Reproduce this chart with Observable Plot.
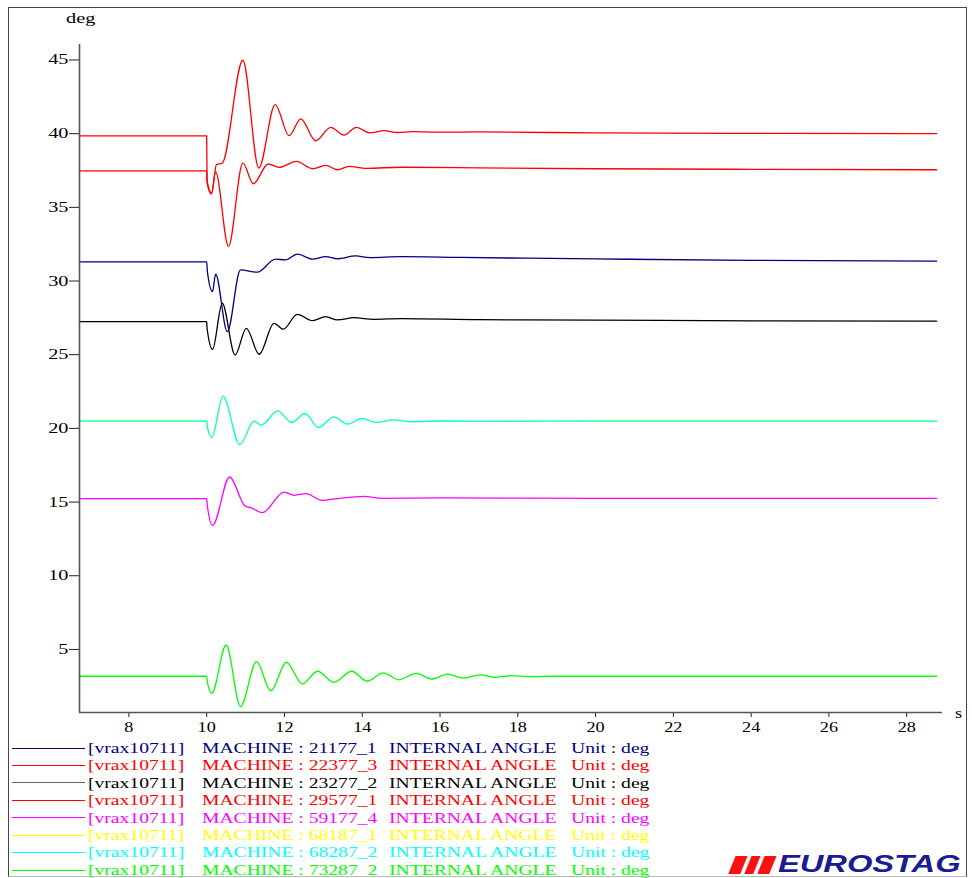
<!DOCTYPE html>
<html>
<head>
<meta charset="utf-8">
<script src="https://cdn.jsdelivr.net/npm/d3@7"></script>
<script src="https://cdn.jsdelivr.net/npm/@observablehq/plot@0.6"></script>
<style>
  html, body { margin: 0; padding: 0; background: #fff; }
  #wrap { position: relative; width: 972px; height: 878px; overflow: hidden; font-family: "Liberation Serif", "Times New Roman", serif; }
  #chart { position: absolute; left: 0; top: 0; }
  #frame { position: absolute; left: 8px; top: 7px; width: 959px; height: 870px; box-sizing: border-box;
           border: 1px solid #444; border-bottom-color: #bbb; pointer-events: none; }
  .stub { position: absolute; left: 12px; width: 73px; height: 1px; }
  .txt { position: absolute; font-size: 14px; line-height: 17px; white-space: pre; transform: scaleX(1.4); transform-origin: 0 0; }
  #logo { position: absolute; left: 726px; top: 855px; width: 240px; height: 20px; }
  .bar { position: absolute; top: 0.5px; height: 17.5px; background: #ff1010; transform: skewX(-22deg); }
  #logoText { position: absolute; left: 52px; top: -2.8px; font-family: "Liberation Sans", Arial, sans-serif; font-weight: bold; font-style: italic;
              font-size: 24px; line-height: 24px; color: #1c1c90; transform: scaleX(1.36); transform-origin: 0 0; white-space: nowrap; }
</style>
</head>
<body>
<div id="wrap">
  <div id="chart"></div>
  <div id="legend"></div>
  <div id="logo">
    <div class="bar" style="left:6px;width:12px"></div>
    <div class="bar" style="left:22px;width:9px"></div>
    <div class="bar" style="left:35px;width:12px"></div>
    <div id="logoText">EUROSTAG</div>
  </div>
  <div id="frame"></div>
</div>
<script>
// ---------- data ----------
const seriesIds = ["21177_1", "22377_3", "23277_2", "29577_1", "59177_4", "68187_1", "68287_2", "73287_2"];
const seriesColors = ["#000080", "#ff0000", "#000000", "#ff0000", "#ff00ff", "#ffff00", "#00ffff", "#00ff00"];
const legendPrefix = "[vrax10711]";
const legendQuantity = "INTERNAL ANGLE";
const legendUnit = "Unit : deg";

const t21177_1 = [6.73, 10.0, 10.02, 10.15, 10.23, 10.53, 10.87, 11.3, 11.77, 12.03, 12.33, 12.72, 13.06, 13.36, 13.83, 14.2, 15.0, 16.5, 20, 24, 28.77];
const v21177_1 = [31.3, 31.3, 30.6, 29.28, 30.46, 26.56, 30.75, 30.6, 31.48, 31.44, 31.82, 31.48, 31.66, 31.5, 31.7, 31.59, 31.65, 31.6, 31.5, 31.4, 31.35];

const t22377_3 = [6.73, 10.0, 10.01, 10.13, 10.25, 10.4, 10.93, 11.34, 11.76, 12.12, 12.42, 12.8, 13.19, 13.53, 13.85, 14.2, 14.56, 14.9, 15.3, 16, 17, 20, 24, 28.77];
const v22377_3 = [39.85, 39.85, 36.8, 35.97, 37.9, 38.0, 44.98, 37.67, 41.97, 39.86, 41.0, 39.52, 40.43, 39.9, 40.43, 40.05, 40.2, 40.08, 40.14, 40.1, 40.12, 40.05, 40.02, 40.0];

const t23277_2 = [6.73, 10.0, 10.01, 10.15, 10.4, 10.73, 11.02, 11.35, 11.73, 11.97, 12.33, 12.72, 13.06, 13.36, 13.79, 14.3, 15, 17, 20, 24, 28.77];
const v23277_2 = [27.24, 27.24, 26.8, 25.36, 28.49, 24.98, 26.79, 25.03, 27.13, 26.73, 27.74, 27.31, 27.58, 27.36, 27.51, 27.4, 27.45, 27.38, 27.35, 27.3, 27.28];

const t29577_1 = [6.73, 10.0, 10.01, 10.12, 10.23, 10.56, 10.93, 11.2, 11.58, 11.86, 12.31, 12.72, 13.06, 13.36, 13.66, 14.1, 15, 17, 20, 24, 28.77];
const v29577_1 = [37.47, 37.47, 36.7, 35.9, 37.4, 32.35, 38.0, 36.6, 37.94, 37.71, 38.12, 37.62, 37.85, 37.55, 37.78, 37.65, 37.72, 37.68, 37.62, 37.58, 37.55];

const t59177_4 = [6.73, 10.0, 10.01, 10.15, 10.59, 10.98, 11.15, 11.43, 11.99, 12.25, 12.55, 12.97, 13.3, 14.05, 14.5, 16, 20, 28.77];
const v59177_4 = [15.23, 15.23, 14.9, 13.42, 16.7, 14.75, 14.6, 14.28, 15.68, 15.46, 15.57, 15.12, 15.22, 15.39, 15.25, 15.28, 15.25, 15.25];

const t68187_1 = [6.73, 10.0, 10.01, 10.13, 10.42, 10.85, 11.22, 11.4, 11.83, 12.18, 12.53, 12.87, 13.27, 13.62, 14.0, 14.36, 14.8, 15.3, 16, 17, 20, 28.77];
const v68187_1 = [20.5, 20.5, 20.2, 19.38, 22.18, 18.9, 20.5, 20.22, 21.18, 20.4, 21.0, 20.07, 20.78, 20.3, 20.66, 20.41, 20.57, 20.46, 20.5, 20.48, 20.5, 20.5];

const t68287_2 = [6.73, 10.0, 10.01, 10.13, 10.42, 10.85, 11.22, 11.4, 11.83, 12.18, 12.53, 12.87, 13.27, 13.62, 14.0, 14.36, 14.8, 15.3, 16, 17, 20, 28.77];
const v68287_2 = [20.49, 20.49, 20.2, 19.38, 22.19, 18.9, 20.49, 20.22, 21.19, 20.4, 21.01, 20.06, 20.78, 20.29, 20.67, 20.4, 20.58, 20.45, 20.5, 20.47, 20.49, 20.49];

const t73287_2 = [6.73, 10.0, 10.01, 10.13, 10.5, 10.87, 11.28, 11.65, 12.05, 12.46, 12.85, 13.27, 13.73, 14.13, 14.54, 14.94, 15.39, 15.78, 16.19, 16.61, 17.04, 17.43, 17.86, 18.3, 19, 28.77];
const v73287_2 = [3.18, 3.18, 2.9, 2.02, 5.3, 1.12, 4.17, 2.2, 4.13, 2.66, 3.52, 2.77, 3.52, 2.84, 3.41, 2.94, 3.38, 2.99, 3.33, 3.06, 3.27, 3.11, 3.22, 3.15, 3.18, 3.18];

const xTicks = [8, 10, 12, 14, 16, 18, 20, 22, 24, 26, 28];
const yTicks = [5, 10, 15, 20, 25, 30, 35, 40, 45];
const xDomain = [6.73, 28.92];
const yDomain = [0.72, 46.05];
const yUnitLabel = "deg";
const xUnitLabel = "s";

// ---------- build table ----------
const seriesData = {
  "21177_1": [t21177_1, v21177_1],
  "22377_3": [t22377_3, v22377_3],
  "23277_2": [t23277_2, v23277_2],
  "29577_1": [t29577_1, v29577_1],
  "59177_4": [t59177_4, v59177_4],
  "68187_1": [t68187_1, v68187_1],
  "68287_2": [t68287_2, v68287_2],
  "73287_2": [t73287_2, v73287_2]
};
const rows = [];
for (const id of seriesIds) {
  const [ts, vs] = seriesData[id];
  ts.forEach((t, i) => rows.push({id, t, v: vs[i]}));
}

const plot = Plot.plot({
  width: 972,
  height: 740,
  marginLeft: 79,
  marginRight: 30,
  marginTop: 44,
  marginBottom: 28,
  style: {fontFamily: "'Liberation Serif', 'Times New Roman', serif", fontSize: "14px", color: "#000", background: "transparent", overflow: "visible"},
  x: {domain: xDomain},
  y: {domain: yDomain},
  color: {domain: seriesIds, range: seriesColors},
  marks: [
    Plot.axisY({ticks: yTicks, tickSize: 10, tickPadding: 1, label: null, stroke: "#222"}),
    Plot.axisX({ticks: xTicks, tickSize: 5, tickPadding: 5, label: null, stroke: "#222"}),
    Plot.line(rows, {x: "t", y: "v", z: "id", stroke: "id", curve: "monotone-x", strokeWidth: 1.3}),
    Plot.ruleX([xDomain[0]], {stroke: "#555", strokeWidth: 1.6}),
    Plot.ruleY([yDomain[0]], {stroke: "#555", strokeWidth: 1.6})
  ]
});
document.getElementById("chart").appendChild(plot);

function stretch(group, s) {
  plot.querySelectorAll(`g[aria-label="${group}"] text`).forEach(t => {
    let tr = t.getAttribute("transform") || "";
    const x = t.getAttribute("x");
    if (x !== null) { tr += ` translate(${x},0)`; t.removeAttribute("x"); }
    t.setAttribute("transform", tr + ` scale(${s},1)`);
  });
}
stretch("y-axis tick label", 1.45);
stretch("x-axis tick label", 1.3);

const svgSel = d3.select(plot);
svgSel.append("text").attr("text-anchor", "start").attr("transform", "translate(66,22.5) scale(1.45,1)").attr("fill", "#000").text(yUnitLabel);
svgSel.append("text").attr("text-anchor", "start").attr("transform", "translate(955,718) scale(1.3,1)").attr("fill", "#000").text(xUnitLabel);

// ---------- legend ----------
const legend = document.getElementById("legend");
const rowY0 = 748, rowStep = 17.43;
seriesIds.forEach((id, i) => {
  const y = rowY0 + i * rowStep;
  const c = seriesColors[i];
  const stub = document.createElement("div");
  stub.className = "stub";
  stub.style.top = (y - 0.5) + "px";
  stub.style.background = c === "#000000" ? "#666" : c;
  legend.appendChild(stub);
  const cols = [[88, legendPrefix], [202, "MACHINE : " + id], [389, legendQuantity], [571, legendUnit]];
  cols.forEach(([x, s]) => {
    const sp = document.createElement("div");
    sp.className = "txt";
    sp.style.left = x + "px";
    sp.style.top = (y - 8.2) + "px";
    sp.style.color = c;
    sp.textContent = s;
    legend.appendChild(sp);
  });
});
</script>
</body>
</html>
